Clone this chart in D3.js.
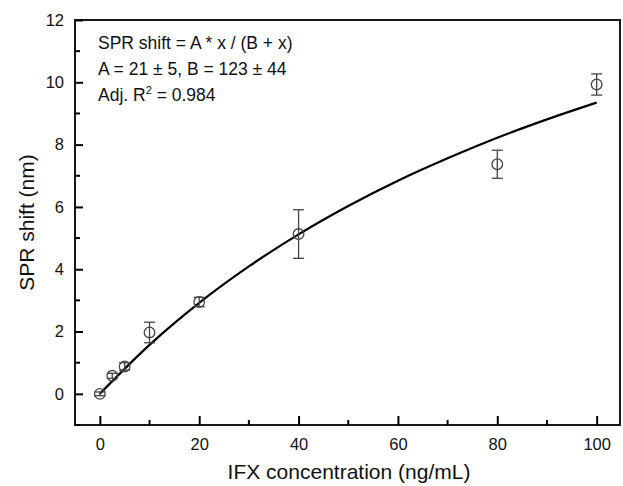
<!DOCTYPE html>
<html><head><meta charset="utf-8">
<script src="https://cdn.jsdelivr.net/npm/d3@7"></script>
<style>body{margin:0;background:#fff}svg{display:block}text{font-family:"Liberation Sans",Arial,sans-serif;fill:#111}</style>
</head><body><svg id="c" width="623" height="486"></svg>
<script>
const concentrations = [0, 2.5, 5, 10, 20, 40, 80, 100];
const sprShift = [0, 0.58, 0.88, 1.97, 2.95, 5.13, 7.37, 9.93];
const sprError = [0.06, 0.08, 0.12, 0.33, 0.15, 0.78, 0.45, 0.34];
const fitX = [0, 10, 20, 30, 40, 50, 60, 70, 80, 90, 100];
const fitY = [0, 1.57, 2.92, 4.09, 5.12, 6.03, 6.84, 7.56, 8.22, 8.81, 9.35];
const xTicks = [0, 20, 40, 60, 80, 100];
const yTicks = [0, 2, 4, 6, 8, 10, 12];
const annotation = ["SPR shift = A * x / (B + x)", "A = 21 \u00B1 5, B = 123 \u00B1 44"];

const svg = d3.select("#c");
const L = 75, R = 620, T = 20, B = 425;
const x = d3.scaleLinear().domain([-5, 104.7]).range([L, R]);
const y = d3.scaleLinear().domain([-1, 12]).range([B, T]);

// frame
svg.append("rect").attr("x", L).attr("y", T).attr("width", R - L).attr("height", B - T)
  .attr("fill", "none").attr("stroke", "#000").attr("stroke-width", 1.8);

// axes
const xAxis = d3.axisBottom(x).tickValues(xTicks).tickSize(-9).tickPadding(13);
const gx = svg.append("g").attr("transform", `translate(0,${B})`).call(xAxis);
const yAxis = d3.axisLeft(y).tickValues(yTicks).tickSize(-8).tickPadding(11);
const gy = svg.append("g").attr("transform", `translate(${L},0)`).call(yAxis);
[gx, gy].forEach(g => {
  g.select(".domain").remove();
  g.selectAll(".tick line").attr("stroke", "#000").attr("stroke-width", 2);
  g.selectAll(".tick text").style("font-size", "16.5px").attr("fill", "#111");
});
// minor ticks
const xMinor = d3.range(10, 100, 20);
svg.append("g").selectAll("line").data(xMinor).join("line")
  .attr("x1", d => x(d)).attr("x2", d => x(d)).attr("y1", B).attr("y2", B - 5)
  .attr("stroke", "#000").attr("stroke-width", 2);
const yMinor = d3.range(-1, 12, 2);
svg.append("g").selectAll("line").data(yMinor).join("line")
  .attr("y1", d => y(d)).attr("y2", d => y(d)).attr("x1", L).attr("x2", L + 5)
  .attr("stroke", "#000").attr("stroke-width", 2);

// fit line
const line = d3.line().x(d => x(d[0])).y(d => y(d[1])).curve(d3.curveMonotoneX);
svg.append("path").datum(fitX.map((v, i) => [v, fitY[i]]))
  .attr("d", line).attr("fill", "none").attr("stroke", "#000").attr("stroke-width", 2.2);

// error bars & points
const pts = concentrations.map((c, i) => ({c, v: sprShift[i], e: sprError[i]}));
const eg = svg.append("g").attr("stroke", "#444").attr("stroke-width", 1.3).attr("fill", "none");
pts.forEach(p => {
  eg.append("line").attr("x1", x(p.c)).attr("x2", x(p.c)).attr("y1", y(p.v + p.e)).attr("y2", y(p.v - p.e));
  [p.v + p.e, p.v - p.e].forEach(v => eg.append("line")
    .attr("x1", x(p.c) - 5.5).attr("x2", x(p.c) + 5.5).attr("y1", y(v)).attr("y2", y(v)));
  eg.append("circle").attr("cx", x(p.c)).attr("cy", y(p.v)).attr("r", 5.3);
});

// annotation
const ag = svg.append("g").style("font-size", "17.5px");
ag.append("text").attr("x", 98).attr("y", 49).text(annotation[0]);
ag.append("text").attr("x", 98).attr("y", 75).text(annotation[1]);
const r2 = ag.append("text").attr("x", 98).attr("y", 101);
r2.append("tspan").text("Adj. R");
r2.append("tspan").attr("dy", -7).style("font-size", "11px").text("2");
r2.append("tspan").attr("dy", 7).text(" = 0.984");

// axis titles
svg.append("text").attr("x", 349).attr("y", 479).attr("text-anchor", "middle")
  .style("font-size", "21px").text("IFX concentration (ng/mL)");
svg.append("text").attr("transform", `translate(34,${(T + B) / 2}) rotate(-90)`)
  .attr("text-anchor", "middle").style("font-size", "21px").text("SPR shift (nm)");
</script></body></html>
